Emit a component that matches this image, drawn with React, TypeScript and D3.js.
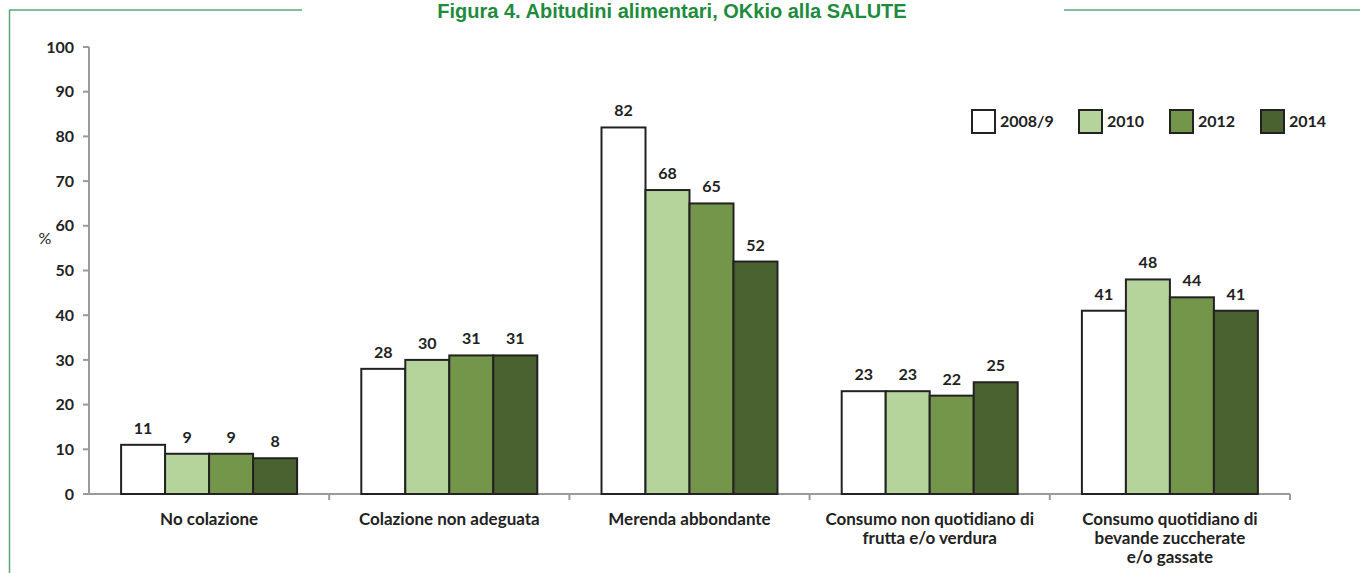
import React from "react";
import * as d3 from "d3";

const categories = [
  ["No colazione"],
  ["Colazione non adeguata"],
  ["Merenda abbondante"],
  ["Consumo non quotidiano di", "frutta e/o verdura"],
  ["Consumo quotidiano di", "bevande zuccherate", "e/o gassate"],
];
const seriesNames = ["2008/9", "2010", "2012", "2014"];
const s2008 = [11, 28, 82, 23, 41];
const s2010 = [9, 30, 68, 23, 48];
const s2012 = [9, 31, 65, 22, 44];
const s2014 = [8, 31, 52, 25, 41];
const series = [s2008, s2010, s2012, s2014];
const yTicks = [0, 10, 20, 30, 40, 50, 60, 70, 80, 90, 100];
const colors = ["#ffffff", "#b5d49c", "#74964a", "#4a6230"];

export default function App() {
  const W = 1360, H = 573;
  const x0 = 89, x1 = 1290;
  const y = d3.scaleLinear().domain([0, 100]).range([494, 47]);
  const xg = d3.scaleBand().domain(categories.map((_, i) => String(i))).range([x0, x1]).paddingInner(0).paddingOuter(0);
  const gw = xg.bandwidth();
  const barW = 44;
  const xb = d3.scaleBand().domain(seriesNames).range([gw / 2 - 2 * barW, gw / 2 + 2 * barW]).padding(0);
  const font = "Lato, 'Open Sans', sans-serif";
  const legendX = [972, 1079, 1170, 1261];
  return (
    <svg width={W} height={H} style={{ position: "absolute", left: 0, top: 0 }} fontFamily={font}>
      <rect width={W} height={H} fill="#fff" />
      {/* frame */}
      <line x1={9} y1={10} x2={302} y2={10} stroke="#5aa878" strokeWidth={1.5} />
      <line x1={1064} y1={10} x2={1360} y2={10} stroke="#5aa878" strokeWidth={1.5} />
      <line x1={9.5} y1={10} x2={9.5} y2={573} stroke="#5aa878" strokeWidth={1.5} />
      <text x={672} y={18} textAnchor="middle" fontFamily="'Liberation Sans', Arial, sans-serif" fontWeight="bold" fontSize={20} fill="#1e8c3c">
        Figura 4. Abitudini alimentari, OKkio alla SALUTE
      </text>
      {/* y axis */}
      <line x1={x0} y1={y(100)} x2={x0} y2={y(0)} stroke="#9a9a9a" strokeWidth={2} />
      {yTicks.map((t) => (
        <g key={t}>
          <line x1={x0 - 6} x2={x0} y1={y(t)} y2={y(t)} stroke="#9a9a9a" strokeWidth={2} />
          <text x={x0 - 15} y={y(t)} dy="0.35em" textAnchor="end" fontWeight="bold" fontSize={16} fill="#222">{t}</text>
        </g>
      ))}
      <text x={45} y={244} textAnchor="middle" fontSize={16} fill="#222">%</text>
      {/* x axis */}
      <line x1={x0} y1={y(0)} x2={x1} y2={y(0)} stroke="#9a9a9a" strokeWidth={2} />
      {categories.map((_, i) => (
        <line key={i} x1={xg(String(i))! + gw} x2={xg(String(i))! + gw} y1={y(0)} y2={y(0) + 6} stroke="#9a9a9a" strokeWidth={2} />
      ))}
      {/* bars */}
      {categories.map((cat, i) => {
        const gx = xg(String(i))!;
        return (
          <g key={i}>
            {series.map((s, j) => {
              const bx = gx + xb(seriesNames[j])!;
              return (
                <g key={j}>
                  <rect x={bx} y={y(s[i])} width={barW} height={y(0) - y(s[i])} fill={colors[j]} stroke="#222" strokeWidth={2} />
                  <text x={bx + barW / 2} y={y(s[i]) - 11} textAnchor="middle" fontWeight="bold" fontSize={16} fill="#222">{s[i]}</text>
                </g>
              );
            })}
            {cat.map((line, k) => (
              <text key={k} x={gx + gw / 2} y={525 + k * 19} textAnchor="middle" fontWeight="bold" fontSize={17} fill="#222">{line}</text>
            ))}
          </g>
        );
      })}
      {/* legend */}
      {seriesNames.map((n, j) => (
        <g key={n}>
          <rect x={legendX[j]} y={110} width={23} height={23} fill={colors[j]} stroke="#222" strokeWidth={2} />
          <text x={legendX[j] + 28} y={127} fontWeight="bold" fontSize={16} fill="#222">{n}</text>
        </g>
      ))}
    </svg>
  );
}
